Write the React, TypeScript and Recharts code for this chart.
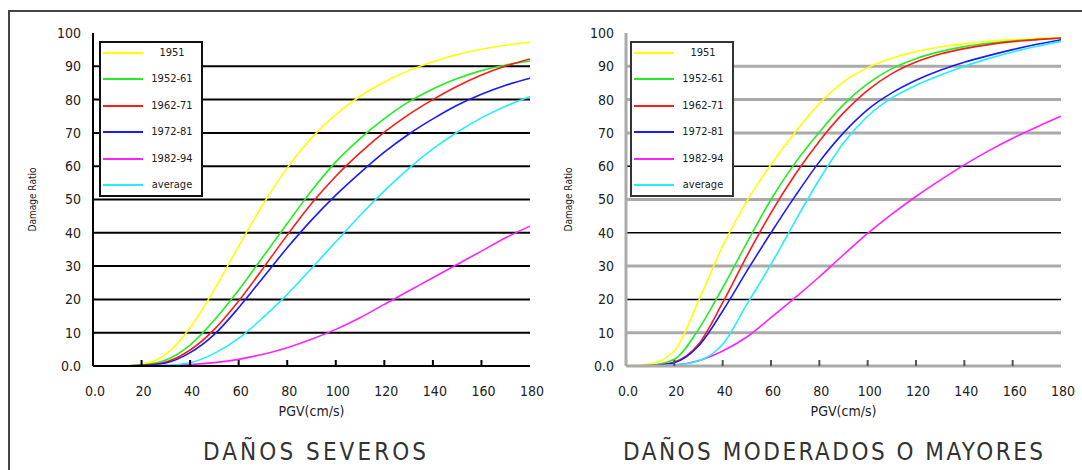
import React from 'react';
import { LineChart, Line, XAxis, YAxis, CartesianGrid, Legend } from 'recharts';

const pgv = [0, 10, 20, 30, 40, 50, 60, 70, 80, 90, 100, 110, 120, 130, 140, 150, 160, 170, 180];
const xTicks = [0, 20, 40, 60, 80, 100, 120, 140, 160, 180];
const yTicks = [0, 10, 20, 30, 40, 50, 60, 70, 80, 90, 100];
const leftGrid = [10, 20, 30, 40, 50, 60, 70, 80, 90];
const rightGridGray = [10, 30, 50, 70, 80, 90];
const rightGridBlack = [20, 40, 60];

const seriesNames = ['1951', '1952-61', '1962-71', '1972-81', '1982-94', 'average'];
const seriesKeys = ['s1951', 's1952', 's1962', 's1972', 's1982', 'savg'];
const seriesColors = ['#ffff00', '#22ee22', '#ff1a1a', '#1a1aff', '#ff22ff', '#22eeff'];

// DAÑOS SEVEROS
const severe1951 = [0, 0, 0.5, 3.5, 11.5, 23, 36, 48.5, 59.5, 68.5, 75.5, 81, 85.3, 88.7, 91.4, 93.5, 95.1, 96.3, 97.2];
const severe1952 = [0, 0, 0.3, 1.8, 6.3, 13.8, 22.8, 32.8, 42.8, 52.6, 61.3, 68.3, 74.3, 79.3, 83.2, 86.3, 88.7, 90.4, 91.6];
const severe1962 = [0, 0, 0.2, 1.2, 4.8, 11, 19.5, 29.3, 39.3, 48.8, 57, 64, 70.2, 75.5, 80, 84, 87.4, 90.1, 92.2];
const severe1972 = [0, 0, 0.1, 0.9, 4, 9.5, 17.5, 26.5, 35.5, 43.8, 51.3, 58, 64.2, 69.6, 74.2, 78.3, 81.6, 84.3, 86.4];
const severe1982 = [0, 0, 0, 0.1, 0.4, 1, 2, 3.5, 5.5, 8, 11, 14.5, 18.5, 22.5, 26.5, 30.5, 34.5, 38.5, 42];
const severeAvg = [0, 0, 0, 0.2, 1, 3.8, 8.3, 14.5, 21.5, 29.3, 37.3, 45.2, 52.6, 59.3, 65.2, 70.2, 74.5, 78, 80.9];

// DAÑOS MODERADOS O MAYORES
const moderate1951 = [0, 0.6, 4.5, 19.5, 36, 49.5, 60.5, 70.2, 78.8, 85.3, 89.6, 92.4, 94.4, 95.8, 96.8, 97.5, 98, 98.3, 98.6];
const moderate1952 = [0, 0.2, 2, 11, 23.5, 37, 50, 61, 70.2, 78.5, 84.8, 89.3, 92.3, 94.4, 95.9, 96.9, 97.6, 98.1, 98.5];
const moderate1962 = [0, 0.1, 1.2, 6.5, 19, 33, 46, 57.5, 67.5, 76, 82.8, 87.8, 91.3, 93.7, 95.3, 96.5, 97.4, 98, 98.5];
const moderate1972 = [0, 0, 1, 6, 16.5, 28.5, 40, 51, 61.3, 70, 77, 82, 85.8, 88.8, 91.2, 93.2, 95, 96.6, 98];
const moderate1982 = [0, 0, 0.3, 1.6, 4.5, 8.7, 14.5, 20.5, 26.8, 33.4, 39.8, 45.6, 50.9, 55.8, 60.4, 64.6, 68.4, 71.8, 75];
const moderateAvg = [0, 0, 0.3, 1.5, 6.5, 18.5, 30.5, 43.5, 56, 67, 75, 80.5, 84.3, 87.3, 90, 92.3, 94.3, 96, 97.5];

const buildRows = (series: number[][]) =>
  pgv.map((x, i) => {
    const row: Record<string, number> = { x };
    seriesKeys.forEach((k, j) => {
      row[k] = series[j][i];
    });
    return row;
  });

const severeRows = buildRows([severe1951, severe1952, severe1962, severe1972, severe1982, severeAvg]);
const moderateRows = buildRows([moderate1951, moderate1952, moderate1962, moderate1972, moderate1982, moderateAvg]);

const FONT = '"DejaVu Sans Condensed", "DejaVu Sans", sans-serif';
const fmt = (v: number) => (v === 0 ? '0.0' : String(v));

const XTick = (props: any) => {
  const { x, y, payload, markColor } = props;
  const v = payload.value;
  const showMark = v !== 0 && v !== 180;
  return (
    <g>
      {showMark && <line x1={x} x2={x} y1={y} y2={y - 6} stroke={markColor} strokeWidth={2} />}
      <text x={x + 2} y={y + 30} textAnchor="middle" fontFamily={FONT} fontSize={14} fill="#222">
        {fmt(v)}
      </text>
    </g>
  );
};

const LegendBox = ({ border }: { border: string }) => (
  <div
    style={{
      position: 'relative',
      width: 104,
      height: 156,
      boxSizing: 'border-box',
      border: `2px solid ${border}`,
      background: '#fff',
      fontFamily: FONT,
      fontSize: 11,
      color: '#222',
    }}
  >
    {seriesNames.map((n, i) => (
      <div
        key={n}
        style={{
          position: 'absolute',
          left: 0,
          right: 0,
          top: 10 + i * 26.4 - 8,
          height: 16,
          display: 'flex',
          alignItems: 'center',
        }}
      >
        <div style={{ width: 40, height: 2, background: seriesColors[i], marginLeft: 2 }} />
        <div style={{ flex: 1, textAlign: 'center', lineHeight: '16px' }}>{n}</div>
      </div>
    ))}
  </div>
);

type PanelProps = {
  rows: Record<string, number>[];
  width: number;
  yAxisWidth: number;
  marginRight: number;
  frameColor: string;
  axisColor: string;
  axisWidth: number;
  borderColor: string;
  markColor: string;
  grids: { values: number[]; stroke: string; width: number }[];
  legendLeft: number;
  legendBorder: string;
  yLabelOffset: number;
};

const Panel = (p: PanelProps) => (
  <LineChart
    width={p.width}
    height={420}
    data={p.rows}
    margin={{ top: 33, right: p.marginRight, bottom: 4, left: 0 }}
  >
    {p.grids.map((g, i) => (
      <CartesianGrid
        key={i}
        vertical={false}
        horizontalValues={g.values}
        stroke={g.stroke}
        strokeWidth={g.width}
        strokeDasharray=""
      />
    ))}
    <XAxis
      type="number"
      dataKey="x"
      domain={[0, 180]}
      ticks={xTicks}
      interval={0}
      tickSize={0}
      tickMargin={0}
      tickLine={false}
      tick={<XTick markColor={p.markColor} />}
      axisLine={{ stroke: p.axisColor, strokeWidth: p.axisWidth }}
      height={50}
      label={{
        value: 'PGV(cm/s)',
        position: 'insideBottom',
        offset: 0,
        style: { fontFamily: FONT, fontSize: 14, fill: '#222' },
      }}
    />
    <XAxis
      xAxisId="top"
      orientation="top"
      type="number"
      dataKey="x"
      domain={[0, 180]}
      height={0}
      tick={false}
      tickLine={false}
      axisLine={{ stroke: p.frameColor, strokeWidth: p.axisWidth }}
    />
    <YAxis
      type="number"
      domain={[0, 100]}
      ticks={yTicks}
      interval={0}
      width={p.yAxisWidth}
      tickLine={false}
      tickMargin={6}
      tickFormatter={fmt}
      tick={{ fontFamily: FONT, fontSize: 14, fill: '#222' }}
      axisLine={{ stroke: p.axisColor, strokeWidth: p.axisWidth }}
      label={{
        value: 'Damage Ratio',
        angle: -90,
        position: 'insideLeft',
        offset: p.yLabelOffset,
        style: { fontFamily: FONT, fontSize: 10, fill: '#222', textAnchor: 'middle' },
      }}
    />
    <YAxis
      yAxisId="right"
      orientation="right"
      type="number"
      domain={[0, 100]}
      width={0}
      tick={false}
      tickLine={false}
      axisLine={{ stroke: p.borderColor, strokeWidth: 2 }}
    />
    {seriesKeys.map((k, i) => (
      <Line
        key={k}
        type="monotone"
        dataKey={k}
        name={seriesNames[i]}
        stroke={seriesColors[i]}
        strokeWidth={1.6}
        dot={false}
        activeDot={false}
        isAnimationActive={false}
      />
    ))}
    <Legend
      layout="vertical"
      align="center"
      verticalAlign="middle"
      content={() => <LegendBox border={p.legendBorder} />}
      wrapperStyle={{ left: p.legendLeft, top: 41, width: 104, height: 156 }}
    />
  </LineChart>
);

export default function App() {
  return (
    <div
      style={{
        position: 'fixed',
        left: 0,
        top: 0,
        width: 1082,
        height: 470,
        overflow: 'hidden',
        background: '#fff',
      }}
    >
      <div
        style={{
          position: 'absolute',
          left: 8,
          top: 10,
          width: 2000,
          height: 2000,
          borderLeft: '2px solid #444',
          borderTop: '2px solid #444',
        }}
      />
      <div style={{ position: 'absolute', left: 0, top: 0 }}>
        <Panel
          rows={severeRows}
          width={545}
          yAxisWidth={93}
          marginRight={15}
          frameColor="#000"
          axisColor="#000"
          axisWidth={2}
          borderColor="#000"
          markColor="#000"
          grids={[{ values: leftGrid, stroke: '#000', width: 2 }]}
          legendLeft={99}
          legendBorder="#111"
          yLabelOffset={32}
        />
      </div>
      <div style={{ position: 'absolute', left: 540, top: 0 }}>
        <Panel
          rows={moderateRows}
          width={542}
          yAxisWidth={86}
          marginRight={21}
          frameColor="#aaa"
          axisColor="#aaa"
          axisWidth={3}
          borderColor="#555"
          markColor="#555"
          grids={[
            { values: rightGridGray, stroke: '#aaa', width: 3 },
            { values: rightGridBlack, stroke: '#000', width: 1.5 },
          ]}
          legendLeft={90}
          legendBorder="#333"
          yLabelOffset={28}
        />
      </div>
      <svg
        width={1082}
        height={470}
        style={{ position: 'absolute', left: 0, top: 0, pointerEvents: 'none' }}
      >
        <text x={203} y={460} textLength={223} lengthAdjust="spacing" fontFamily={FONT} fontSize={24} fill="#333">
          DAÑOS SEVEROS
        </text>
        <text x={623} y={460} textLength={420} lengthAdjust="spacing" fontFamily={FONT} fontSize={24} fill="#333">
          DAÑOS MODERADOS O MAYORES
        </text>
      </svg>
    </div>
  );
}
